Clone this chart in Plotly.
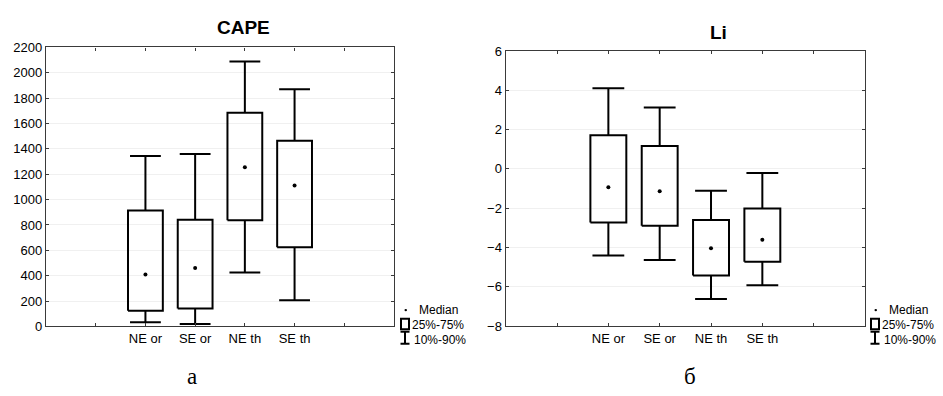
import plotly.graph_objects as go

W, H = 943, 396

categories = ["NE or", "SE or", "NE th", "SE th"]

# CAPE statistics (10%, 25%, median, 75%, 90%)
cape_p10 = [33, 20, 426, 207]
cape_q1 = [124, 141, 837, 625]
cape_med = [409, 461, 1256, 1112]
cape_q3 = [915, 842, 1685, 1465]
cape_p90 = [1344, 1359, 2088, 1871]

# Li statistics
li_p10 = [-4.40, -4.63, -6.62, -5.92]
li_q1 = [-2.73, -2.89, -5.43, -4.73]
li_med = [-0.93, -1.14, -4.04, -3.60]
li_q3 = [1.71, 1.17, -2.60, -2.01]
li_p90 = [4.10, 3.12, -1.11, -0.21]

tick_text = [""] + categories + [""]
tick_vals = [1, 2, 3, 4, 5, 6]
cat_pos = [2, 3, 4, 5]

BOX_HALF = 0.35
CAP_HALF = 0.31
FONT = "Liberation Sans, Arial, sans-serif"


def px_x(x):
    return x / W


def px_y(y):
    return 1 - y / H


def add_panel(fig, xa, ya, p10, q1, med, q3, p90):
    bx, by, wx, wy = [], [], [], []
    for p, a, b, c, d in zip(cat_pos, p10, q1, q3, p90):
        bx += [p - BOX_HALF, p + BOX_HALF, p + BOX_HALF, p - BOX_HALF, p - BOX_HALF, None]
        by += [b, b, c, c, b, None]
        wx += [p, p, None, p - CAP_HALF, p + CAP_HALF, None,
               p, p, None, p - CAP_HALF, p + CAP_HALF, None]
        wy += [c, d, None, d, d, None, b, a, None, a, a, None]
    fig.add_trace(go.Scatter(x=wx, y=wy, mode="lines", xaxis=xa, yaxis=ya,
                             line=dict(color="black", width=2), hoverinfo="skip",
                             showlegend=False))
    fig.add_trace(go.Scatter(x=bx, y=by, mode="lines", xaxis=xa, yaxis=ya,
                             line=dict(color="black", width=2), hoverinfo="skip",
                             showlegend=False))
    fig.add_trace(go.Scatter(x=cat_pos, y=med, mode="markers", xaxis=xa, yaxis=ya,
                             marker=dict(color="black", size=4), showlegend=False))


fig = go.Figure()
add_panel(fig, "x", "y", cape_p10, cape_q1, cape_med, cape_q3, cape_p90)
add_panel(fig, "x2", "y2", li_p10, li_q1, li_med, li_q3, li_p90)

axis_common = dict(showline=True, linecolor="#3a3a3a", linewidth=1.3, mirror="ticks",
                   ticks="inside", ticklen=3, tickcolor="#3a3a3a", zeroline=False,
                   tickfont=dict(family=FONT, size=13, color="black"))

fig.update_layout(
    width=W, height=H,
    margin=dict(l=0, r=0, t=0, b=0),
    paper_bgcolor="white", plot_bgcolor="white",
    showlegend=False,
    xaxis=dict(domain=[px_x(46), px_x(394)], range=[0, 7], tickvals=tick_vals,
               ticktext=tick_text, showgrid=False, anchor="y", **axis_common),
    yaxis=dict(domain=[px_y(332), px_y(42)], range=[0, 2200], dtick=200,
               showgrid=True, gridcolor="#f0f0f0", gridwidth=1, anchor="x",
               **axis_common),
    xaxis2=dict(domain=[px_x(505.7), px_x(865)], range=[0, 7], tickvals=tick_vals,
                ticktext=tick_text, showgrid=False, anchor="y2", **axis_common),
    yaxis2=dict(domain=[px_y(331.7), px_y(45.7)], range=[-8, 6], dtick=2,
                showgrid=True, gridcolor="#f0f0f0", gridwidth=1, anchor="x2",
                **axis_common),
)

annotations = [
    dict(text="<b>CAPE</b>", x=px_x(243.7), y=px_y(21), font=dict(family=FONT, size=19)),
    dict(text="<b>Li</b>", x=px_x(718), y=px_y(26.7), font=dict(family=FONT, size=19)),
    dict(text="a", x=px_x(191.7), y=px_y(384),
         font=dict(family="Liberation Serif, Times New Roman, serif", size=23)),
    dict(text="б", x=px_x(690), y=px_y(384),
         font=dict(family="Liberation Serif, Times New Roman, serif", size=23)),
]
shapes = []
for off in (0, 470):
    annotations += [
        dict(text="Median", x=px_x(417 + off), y=px_y(315), xanchor="left",
             font=dict(family=FONT, size=12)),
        dict(text="25%-75%", x=px_x(410 + off), y=px_y(331), xanchor="left",
             font=dict(family=FONT, size=12)),
        dict(text="10%-90%", x=px_x(411.5 + off), y=px_y(346), xanchor="left",
             font=dict(family=FONT, size=12)),
    ]
    lc = dict(color="black", width=2)
    shapes += [
        dict(type="circle", xref="paper", yref="paper",
             x0=px_x(404.5 + off), x1=px_x(407 + off), y0=px_y(316.3), y1=px_y(313.8),
             fillcolor="black", line=dict(color="black", width=0)),
        dict(type="rect", xref="paper", yref="paper",
             x0=px_x(401 + off), x1=px_x(409 + off), y0=px_y(335), y1=px_y(324),
             line=lc),
        dict(type="line", xref="paper", yref="paper",
             x0=px_x(405 + off), x1=px_x(405 + off), y0=px_y(350), y1=px_y(337.5), line=lc),
        dict(type="line", xref="paper", yref="paper",
             x0=px_x(400.5 + off), x1=px_x(409.5 + off), y0=px_y(337.5), y1=px_y(337.5), line=lc),
        dict(type="line", xref="paper", yref="paper",
             x0=px_x(400.5 + off), x1=px_x(409.5 + off), y0=px_y(350), y1=px_y(350), line=lc),
    ]

for a in annotations:
    a.update(xref="paper", yref="paper", showarrow=False)
    a.setdefault("xanchor", "center")
    a["yanchor"] = "middle"
    a["font"]["color"] = "black"

fig.update_layout(annotations=annotations, shapes=shapes)

fig.write_html("out.html")
